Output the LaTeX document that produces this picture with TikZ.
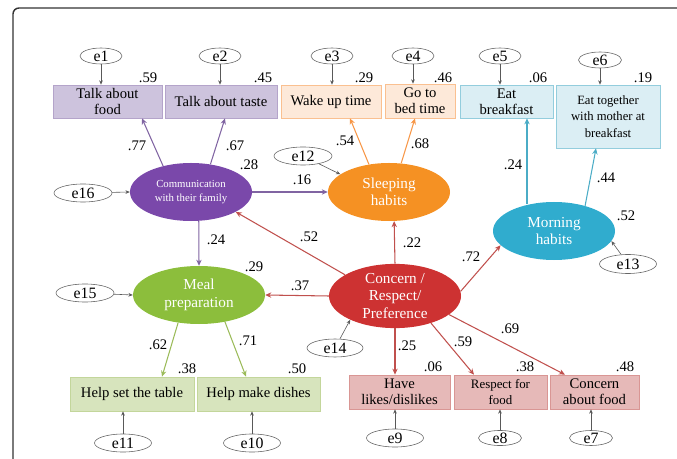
\documentclass[tikz,border=0pt]{standalone}
\usepackage{fontspec}
\setmainfont{LiberationSerif-Regular.ttf}
\newfontfamily\semfont{LiberationSerif-Regular.ttf}
\usepackage{xcolor}
\definecolor{commfill}{RGB}{122,72,170}
\definecolor{sleepfill}{RGB}{245,145,35}
\definecolor{mornfill}{RGB}{48,172,206}
\definecolor{mealfill}{RGB}{140,190,60}
\definecolor{concfill}{RGB}{205,50,50}
\definecolor{commline}{RGB}{128,100,162}
\definecolor{sleepline}{RGB}{247,150,70}
\definecolor{mornline}{RGB}{75,172,198}
\definecolor{mealline}{RGB}{155,187,89}
\definecolor{concline}{RGB}{192,80,77}
\definecolor{boxpurple}{RGB}{205,195,221}
\definecolor{boxpurpleline}{RGB}{180,164,202}
\definecolor{boxpeach}{RGB}{253,233,217}
\definecolor{boxpeachline}{RGB}{250,192,144}
\definecolor{boxblue}{RGB}{219,238,244}
\definecolor{boxblueline}{RGB}{147,205,221}
\definecolor{boxgreen}{RGB}{215,228,189}
\definecolor{boxgreenline}{RGB}{195,214,155}
\definecolor{boxpink}{RGB}{230,185,184}
\definecolor{boxpinkline}{RGB}{217,150,148}
\usepackage{tikz}
\usetikzlibrary{arrows.meta,positioning,shapes.geometric,calc}
\tikzset{
  sem box/.style={draw, line width=0.6pt, align=center, inner sep=1pt, text=black, font=\semfont\fontsize{12.5}{14}\selectfont},
  sem latent/.style={ellipse, inner sep=0pt, align=center, text=white, minimum height=1.74cm, font=\semfont\fontsize{13}{15}\selectfont},
  sem error/.style={ellipse, draw=black!60, fill=white, line width=0.5pt, inner sep=0pt, font=\semfont\fontsize{13.5}{15}\selectfont},
  sem path/.style={-{Stealth[length=1.8mm,width=1.6mm]}, line width=0.9pt},
  sem err edge/.style={-{Stealth[length=1.3mm,width=1.1mm]}, draw=black!65, line width=0.5pt},
  sem coef/.style={font=\semfont\fontsize{12.5}{14}\selectfont, inner sep=0pt, text=black},
}

\begin{document}
\begin{tikzpicture}[x=0.03cm, y=-0.03cm]
  \useasboundingbox (0,0) rectangle (677,459);
  \draw[black!80, line width=1.2pt, rounded corners=0.18cm] (700,8) -- (13,8) -- (13,480);

  % observed variables (top row)
  \node[sem box, fill=boxpurple, draw=boxpurpleline, minimum width=3.27cm, minimum height=0.99cm] (food) at (107.5,101.5) {Talk about\\food};
  \node[sem box, fill=boxpurple, draw=boxpurpleline, minimum width=3.36cm, minimum height=0.99cm] (taste) at (221,101.5) {Talk about taste};
  \node[sem box, fill=boxpeach, draw=boxpeachline, minimum width=3.0cm, minimum height=0.99cm] (wake) at (331,101.5) {Wake up time};
  \node[sem box, fill=boxpeach, draw=boxpeachline, minimum width=2.1cm, minimum height=1.02cm] (bed) at (420,101) {Go to\\bed time};
  \node[sem box, fill=boxblue, draw=boxblueline, minimum width=2.79cm, minimum height=0.99cm] (eatb) at (506.5,101.5) {Eat\\breakfast};
  \node[sem box, fill=boxblue, draw=boxblueline, minimum width=3.12cm, minimum height=1.89cm, font=\semfont\fontsize{10.8}{14}\selectfont] (together) at (608,116.5) {Eat together\\with mother at\\breakfast};

  % observed variables (bottom row)
  \node[sem box, fill=boxgreen, draw=boxgreenline, minimum width=3.72cm, minimum height=1.02cm] (settable) at (132,394) {Help set the table};
  \node[sem box, fill=boxgreen, draw=boxgreenline, minimum width=3.69cm, minimum height=1.02cm] (dishes) at (258.5,394) {Help make dishes};
  \node[sem box, fill=boxpink, draw=boxpinkline, minimum width=3.03cm, minimum height=1.02cm] (likes) at (399.5,392) {Have\\likes/dislikes};
  \node[sem box, fill=boxpink, draw=boxpinkline, minimum width=2.79cm, minimum height=1.02cm, font=\semfont\fontsize{11}{14}\selectfont] (respect) at (500.5,392) {Respect for\\food};
  \node[sem box, fill=boxpink, draw=boxpinkline, minimum width=2.67cm, minimum height=1.02cm] (concfood) at (594.5,392) {Concern\\about food};

  % latent variables
  \node[sem latent, fill=commfill, minimum width=3.66cm, font=\semfont\fontsize{9.2}{11.3}\selectfont] (comm) at (191,192) {Communication\\with their family};
  \node[sem latent, fill=sleepfill, minimum width=3.66cm] (sleep) at (389,192) {Sleeping\\habits};
  \node[sem latent, fill=mornfill, minimum width=3.66cm] (morning) at (554,231) {Morning\\habits};
  \node[sem latent, fill=mealfill, minimum width=3.96cm] (meal) at (199,295) {Meal\\preparation};
  \node[sem latent, fill=concfill, minimum width=3.96cm] (concern) at (395,296) {Concern /\\Respect/\\Preference};

  % error terms
  \node[sem error, minimum width=1.26cm, minimum height=0.48cm] (e1) at (101,56) {e1};
  \node[sem error, minimum width=1.26cm, minimum height=0.48cm] (e2) at (220,56) {e2};
  \node[sem error, minimum width=1.26cm, minimum height=0.48cm] (e3) at (332,56) {e3};
  \node[sem error, minimum width=1.26cm, minimum height=0.48cm] (e4) at (413,56) {e4};
  \node[sem error, minimum width=1.26cm, minimum height=0.48cm] (e5) at (500,56) {e5};
  \node[sem error, minimum width=1.29cm, minimum height=0.48cm] (e6) at (600,60) {e6};
  \node[sem error, minimum width=1.74cm, minimum height=0.54cm] (e12) at (303,156) {e12};
  \node[sem error, minimum width=1.74cm, minimum height=0.54cm] (e16) at (83,193) {e16};
  \node[sem error, minimum width=1.71cm, minimum height=0.57cm] (e13) at (628,264) {e13};
  \node[sem error, minimum width=1.74cm, minimum height=0.54cm] (e15) at (85,293) {e15};
  \node[sem error, minimum width=1.68cm, minimum height=0.54cm] (e14) at (335,348) {e14};
  \node[sem error, minimum width=1.71cm, minimum height=0.54cm] (e11) at (123,443) {e11};
  \node[sem error, minimum width=1.71cm, minimum height=0.54cm] (e10) at (252,443) {e10};
  \node[sem error, minimum width=1.71cm, minimum height=0.54cm] (e9) at (395,438) {e9};
  \node[sem error, minimum width=1.29cm, minimum height=0.45cm] (e8) at (500,438) {e8};
  \node[sem error, minimum width=1.29cm, minimum height=0.45cm] (e7) at (591,438) {e7};

  % structural paths
  \draw[sem path, commline] (comm.137) -- ($(food.south)+(34.5,0)$);
  \draw[sem path, commline] (comm.55) -- ($(taste.south)+(4,0)$);
  \draw[sem path, commline] (comm.east) -- (sleep.west);
  \draw[sem path, commline] (comm.-75) -- (meal.north);
  \draw[sem path, sleepline] (sleep.126) -- ($(wake.south)+(19,0)$);
  \draw[sem path, sleepline] (sleep.67) -- ($(bed.south)+(-5,0)$);
  \coordinate (eatin) at ($(eatb.south)+(20.5,0)$);
  \draw[sem path, mornline] (morning.133 -| eatin) -- (eatin);
  \draw[sem path, mornline] (morning.39) -- ($(together.south)+(-12,0)$);
  \draw[sem path, mealline] (meal.-127) -- ($(settable.north)+(30,0)$);
  \draw[sem path, mealline] (meal.-46) -- ($(dishes.north)+(-12.5,0)$);
  \draw[sem path, concline] (concern.157) -- (comm.-24);
  \draw[sem path, concline] (concern.north) -- (sleep.-80);
  \draw[sem path, concline] (concern.west) -- (meal.east);
  \draw[sem path, concline] (concern.4) -- (morning.195);
  \draw[sem path, concline] (concern.south) -- (concern.south |- likes.north);
  \draw[sem path, concline] (concern.-37) -- ($(respect.north)+(-26.5,0)$);
  \draw[sem path, concline] (concern.-19) -- ($(concfood.north)+(-29.5,0)$);

  % error arrows
  \foreach \e/\b in {e1/food, e2/taste, e3/wake, e4/bed, e5/eatb, e6/together}
    \draw[sem err edge] (\e.south) -- (\e.south |- \b.north);
  \foreach \e/\b in {e11/settable, e10/dishes, e9/likes, e8/respect, e7/concfood}
    \draw[sem err edge] (\e.north) -- (\e.north |- \b.south);
  \draw[sem err edge] (e16) -- (comm.west);
  \draw[sem err edge] (e15) -- (meal.west);
  \draw[sem err edge] (e12) -- (sleep.160);
  \draw[sem err edge] (e13) -- (morning.-10);
  \draw[sem err edge] (e14) -- (concern.208);

  % coefficients and squared multiple correlations
  \node[sem coef] (r-food) at (148,78) {.59};
  \node[sem coef] (r-taste) at (263,78) {.45};
  \node[sem coef] (r-wake) at (364,78) {.29};
  \node[sem coef] (r-bed) at (443,78) {.46};
  \node[sem coef] (r-eatb) at (538,78) {.06};
  \node[sem coef] (r-together) at (643,78) {.19};
  \node[sem coef] (b-food) at (137,146) {.77};
  \node[sem coef] (b-taste) at (235,146) {.67};
  \node[sem coef] (r-comm) at (249,165) {.28};
  \node[sem coef] (b-sleep) at (302,180) {.16};
  \node[sem coef] (b-wake) at (345,141) {.54};
  \node[sem coef] (b-bed) at (420,144) {.68};
  \node[sem coef] (b-eatb) at (513,165) {.24};
  \node[sem coef] (b-together) at (606,178) {.44};
  \node[sem coef] (r-morning) at (626,216) {.52};
  \node[sem coef] (b-meal) at (216,240) {.24};
  \node[sem coef] (b-comm) at (309,237) {.52};
  \node[sem coef] (r-meal) at (254,267) {.29};
  \node[sem coef] (b-concmeal) at (300,286) {.37};
  \node[sem coef] (b-concsleep) at (412,243) {.22};
  \node[sem coef] (b-morning) at (471,257) {.72};
  \node[sem coef] (b-settable) at (158,345) {.62};
  \node[sem coef] (b-dishes) at (248,341) {.71};
  \node[sem coef] (r-settable) at (187,369) {.38};
  \node[sem coef] (r-dishes) at (297,369) {.50};
  \node[sem coef] (b-likes) at (407,346) {.25};
  \node[sem coef] (b-respect) at (463,342) {.59};
  \node[sem coef] (b-concfood) at (510,329) {.69};
  \node[sem coef] (r-likes) at (433,367) {.06};
  \node[sem coef] (r-respect) at (525,367) {.38};
  \node[sem coef] (r-concfood) at (625,367) {.48};
\end{tikzpicture}
\end{document}
